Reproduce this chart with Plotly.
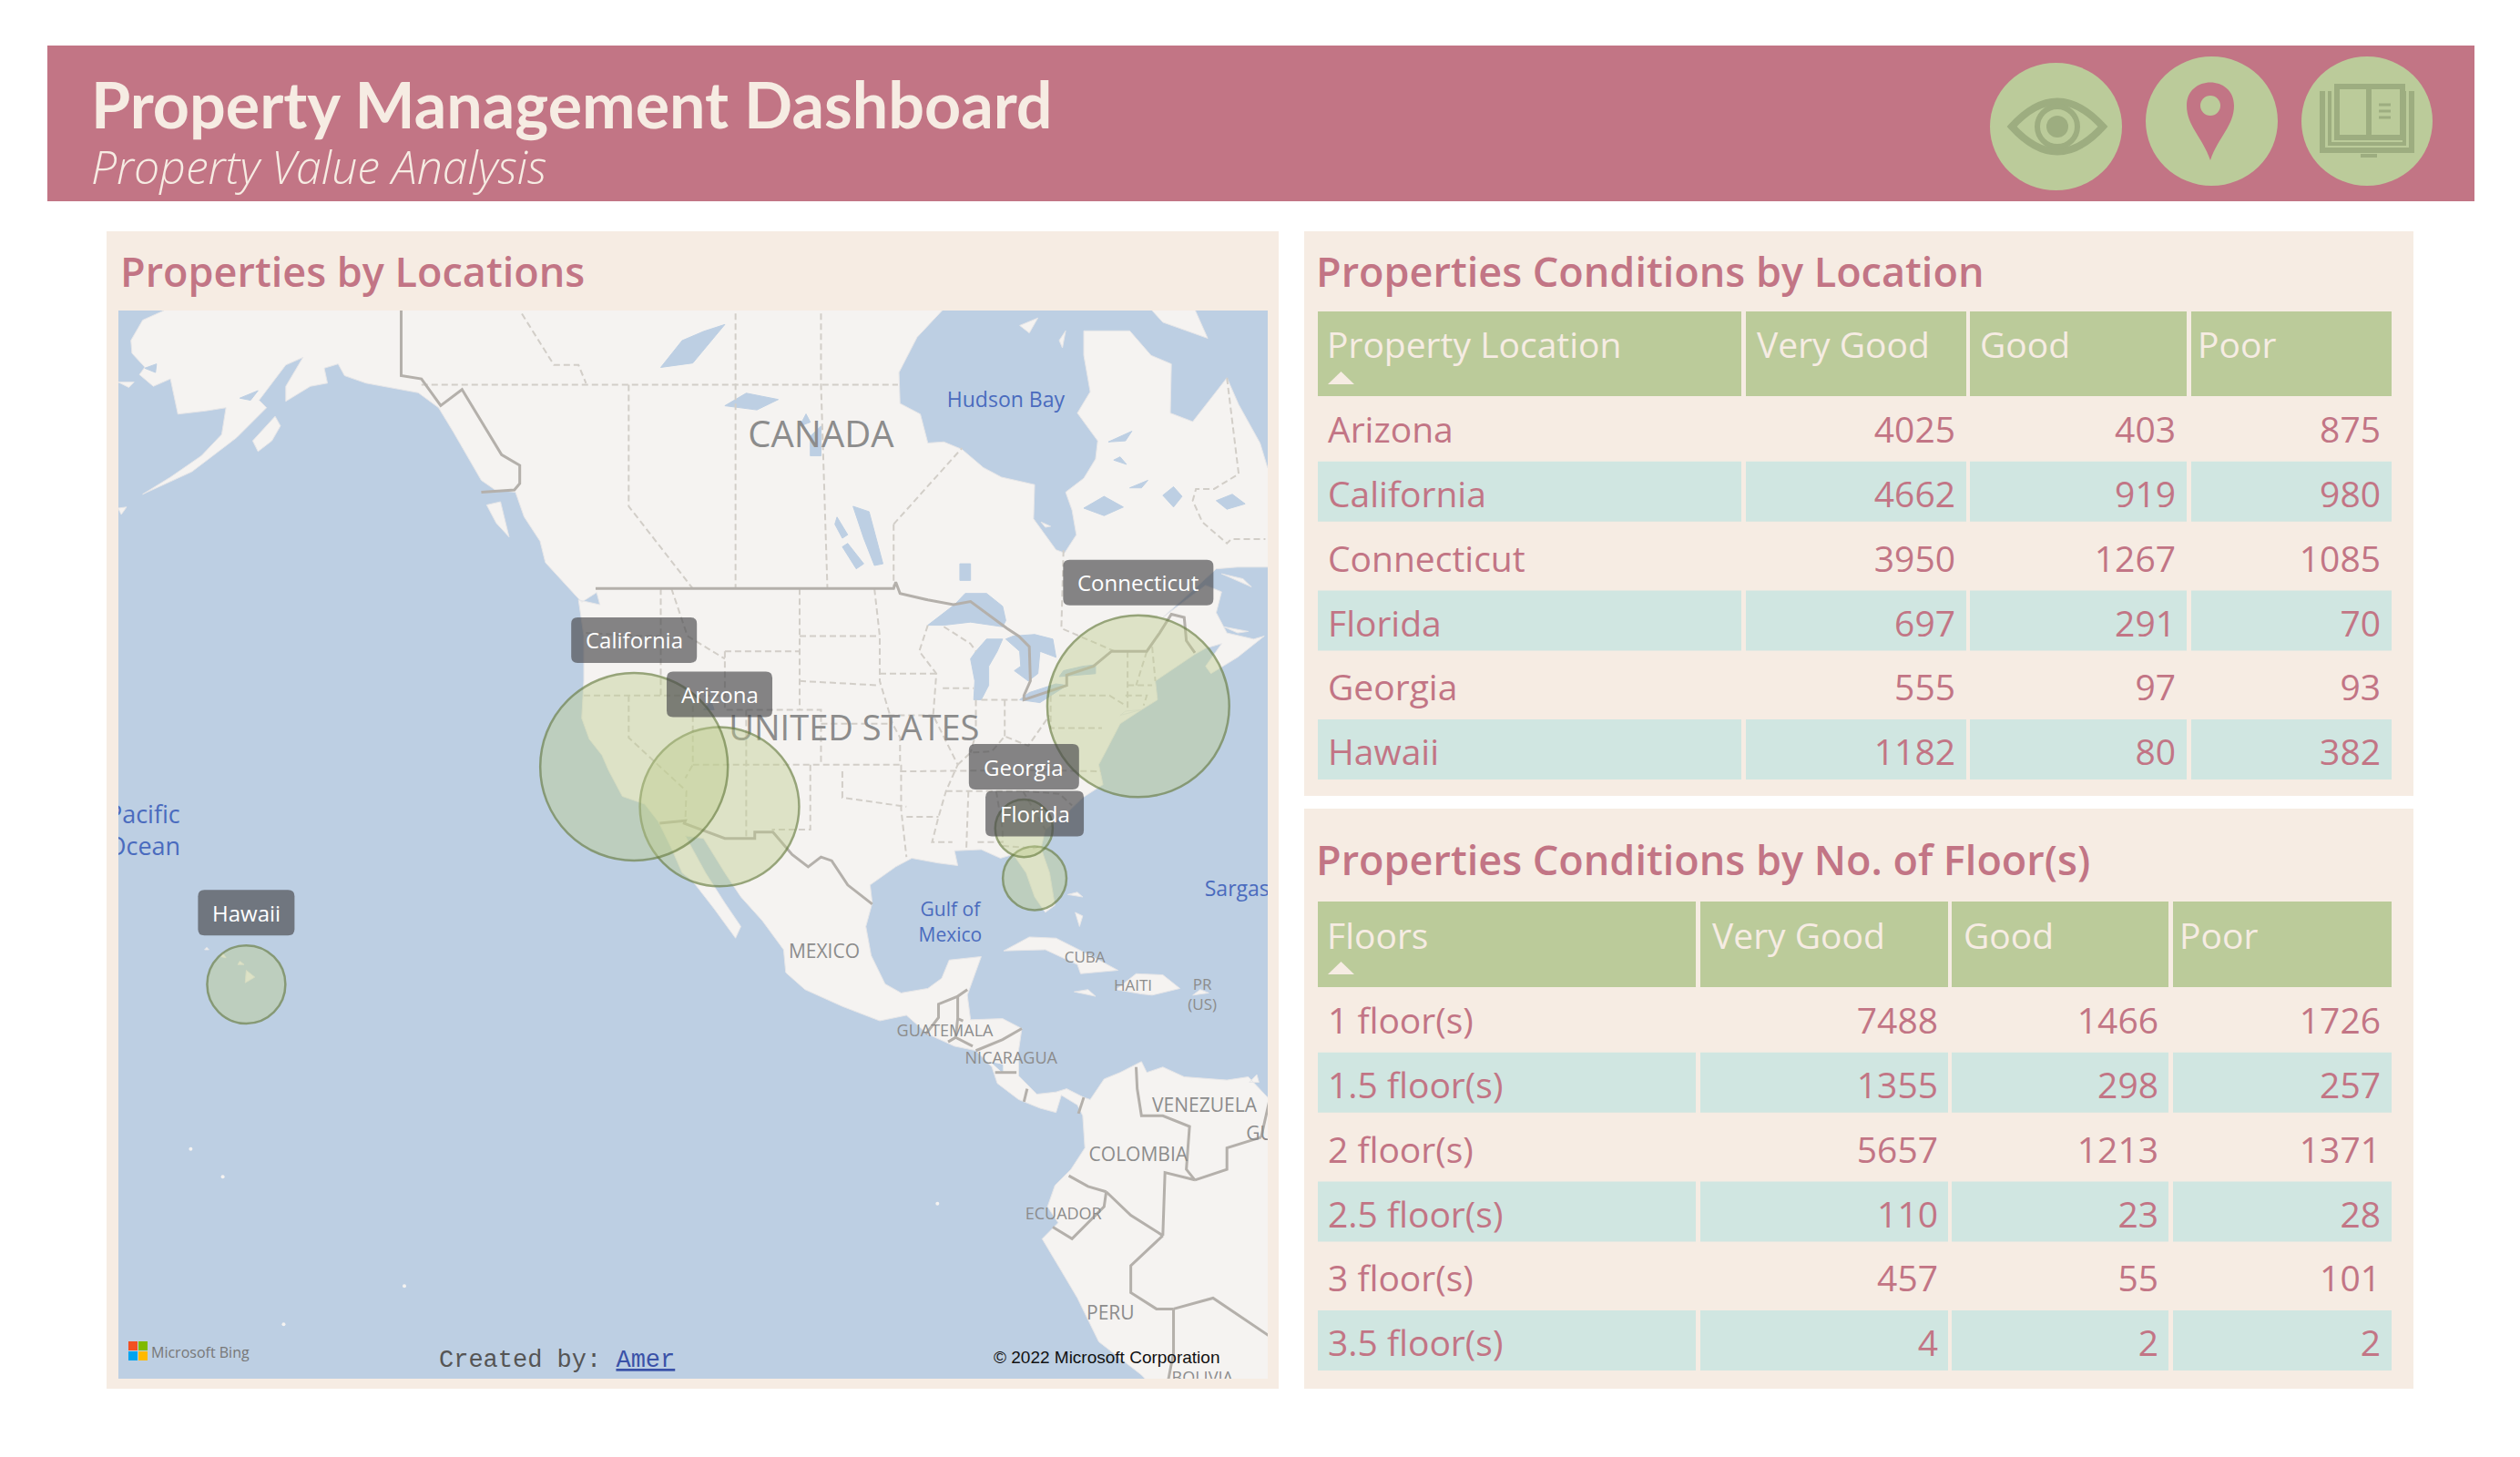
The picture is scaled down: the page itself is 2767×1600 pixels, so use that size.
import math
import plotly.graph_objects as go

# ---------- table data ----------
location_names = ["Arizona", "California", "Connecticut", "Florida", "Georgia", "Hawaii"]
loc_very_good = [4025, 4662, 3950, 697, 555, 1182]
loc_good = [403, 919, 1267, 291, 97, 80]
loc_poor = [875, 980, 1085, 70, 93, 382]

floor_names = ["1 floor(s)", "1.5 floor(s)", "2 floor(s)", "2.5 floor(s)", "3 floor(s)", "3.5 floor(s)"]
floor_very_good = [7488, 1355, 5657, 110, 457, 4]
floor_good = [1466, 298, 1213, 23, 55, 2]
floor_poor = [1726, 257, 1371, 28, 101, 2]

# ---------- bubbles ----------
bubble_lon = [-111.5, -119.5, -72.3, -82.0, -83.0, -155.8]
bubble_lat = [33.8, 36.85, 41.25, 28.05, 32.1, 18.95]
bubble_value = [72.0, 100.0, 94.0, 11.5, 9.4, 17.4]


def lat_of(m):
    # inverse web mercator, m in degrees
    return 2 * math.degrees(math.atan(math.exp(math.radians(m)))) - 90


# ---------- base map ----------
# Alaska and BC coast, (lon, mercator y)
alaska_coast = [
    (-163.5, 90), (-163.5, 82.4), (-165.5, 81.5), (-166.6, 79.6), (-166.5, 78.4), (-165.3, 77.1), (-165.8, 76.4),
    (-164.5, 75.3), (-162.9, 76), (-162.2, 72.7), (-159.6, 73), (-157.7, 73.3), (-158.1, 70.8), (-160, 68.8),
    (-162.9, 66.8), (-165.5, 65.2), (-160.9, 67.3), (-156.7, 70.5), (-153.9, 73.3), (-154.6, 74), (-152.1, 77.3),
    (-150.5, 78), (-152.1, 75.3), (-152.1, 73.9), (-149.8, 75.3), (-148.2, 75.6), (-148.5, 77), (-147.2, 77.4),
    (-146.6, 76.3), (-144.6, 75.6), (-139.7, 74.7), (-137.8, 73.3), (-136.4, 71), (-134.8, 68.2), (-133.8, 66.5),
    (-132.5, 65.6), (-130.6, 65.4), (-129.8, 63.1), (-128.3, 60.8), (-127.8, 58.8), (-125.7, 56.5), (-124.4, 55.1),
    (-123, 56),
]
# west coast round to Labrador, (lon, lat)
main_coast = [
    (-122.7, 48), (-124.7, 48.3), (-124.2, 46), (-124.2, 43), (-124.4, 40.4), (-123.7, 38.9), (-122.5, 37.7),
    (-121.9, 36.6), (-120.6, 34.6), (-118.5, 34), (-117.2, 32.6), (-116, 30.5), (-115, 28.5), (-114, 27.8),
    (-112, 25.5), (-110, 23), (-109.5, 24), (-111, 26), (-112.8, 28.5), (-114.7, 31.5), (-113, 31.3), (-111, 28.5),
    (-109.5, 26.5), (-107.5, 24.5), (-105.5, 22), (-105.3, 20), (-103.5, 18.5), (-100, 17), (-96.5, 15.7),
    (-94, 16.2), (-92, 14.5), (-89.5, 13.4), (-87.5, 13), (-86, 11.5), (-85.5, 10), (-83.5, 8.5), (-81.5, 7.7),
    (-80, 7.3), (-79.5, 8.9), (-78, 8), (-77.5, 7), (-77.3, 4), (-78.6, 2), (-80.1, 0.5), (-80.8, -1.5), (-79.8, -3),
    (-81.3, -4.5), (-79.5, -7.5), (-78, -10), (-76, -14), (-72, -17), (-71, -18), (-55, -18), (-55, 6), (-60, 8.5),
    (-62, 10.6), (-64, 10.3), (-68, 10.6), (-70, 11.5), (-71.5, 11), (-72, 12), (-74, 11), (-75.5, 10.4),
    (-76.8, 8.5), (-77.4, 8.7), (-79, 9.5), (-80, 9.2), (-81.8, 9), (-83.5, 10.7), (-83.5, 13), (-83.2, 15),
    (-85, 15.9), (-88, 15.8), (-88.3, 18), (-87.5, 20), (-87, 21.4), (-90, 21.1), (-90.7, 19.5), (-92, 18.6),
    (-94.5, 18.2), (-96, 19), (-97.3, 21.5), (-97.8, 24), (-97.2, 26), (-97.4, 27.5), (-95, 29), (-93.5, 29.7),
    (-91, 29.3), (-89.2, 29.1), (-89.5, 30.3), (-87, 30.4), (-85.2, 29.7), (-84, 30), (-82.8, 28.5), (-82, 26.5),
    (-81, 25.2), (-80.1, 25.8), (-80.6, 28.5), (-81.4, 30.5), (-81, 32), (-79, 33.3), (-77.5, 34.5), (-75.6, 35.5),
    (-76, 37), (-75.2, 38.2), (-74, 40), (-72, 41), (-70.5, 41.7), (-70.7, 43), (-67, 44.8), (-66, 45.2),
    (-64.5, 45.5), (-66, 44), (-65.5, 43.5), (-63, 44.6), (-60.5, 46), (-61.5, 45.8), (-64, 46.2), (-65, 47.5),
    (-64.5, 48.8), (-66, 49.2), (-70, 47.2), (-67, 49), (-65, 50.2), (-63, 50.3), (-60, 50.3), (-56, 52),
]
# Ungava and Hudson Bay, (lon, mercator y)
hudson_coast = [
    (-55, 66), (-60.2, 67.7), (-60.9, 70), (-62.9, 73.6), (-64, 76.1), (-67.2, 72), (-69.3, 72.8), (-69.2, 77.4),
    (-71.1, 78.2), (-73.1, 80.5), (-77.4, 80.5), (-77.4, 78.2), (-76.8, 74.8), (-78, 72.8), (-76.1, 70.2),
    (-76.3, 68.5), (-77.4, 66.7), (-79.1, 65.4), (-78.5, 63.7), (-78.1, 61.4), (-79.2, 59.7), (-80, 60),
    (-82.1, 62.9), (-82, 66.1), (-85.1, 66.8), (-86.8, 67.7), (-88.8, 69.4), (-90.5, 70.1), (-92, 70),
    (-92.7, 72.7), (-94.6, 73.7), (-94.7, 76.6), (-93, 79.9), (-90.6, 82.46), (-90, 90), (-163.5, 90),
]
mainland = ([(lo, lat_of(m)) for lo, m in alaska_coast] + main_coast + [(lo, lat_of(m)) for lo, m in hudson_coast])

islands_merc = [
    [(-155.2, 70.2), (-153.1, 72.5), (-152.6, 71.6), (-153.4, 70.2), (-154.7, 69.2)],
    [(-167.8, 75.7), (-166.3, 75.7), (-166.8, 75.2)],
    [(-167.8, 63.9), (-167, 64), (-167.5, 63.3)],
    [(-133.3, 64.2), (-132, 64.5), (-131.2, 61.2), (-132.4, 62.5)],
    [(-71.1, 82.5), (-70, 81.3), (-65.8, 79.8), (-67, 82.5)],
    [(-83.4, 81), (-81.7, 81.7), (-82.5, 80.3)],
    [(-79.7, 79.6), (-79.1, 80.5), (-79.4, 78.9)],
    [(-81.4, 62.6), (-80.5, 62.2), (-81, 62.1)],
]
islands = [[(lo, lat_of(m)) for lo, m in poly] for poly in islands_merc] + [
    [(-155.9, 19.1), (-155.0, 19.6), (-155.8, 20.2)],
    [(-156.6, 20.7), (-156.0, 20.7), (-156.4, 21.0)],
    [(-158.2, 21.4), (-157.7, 21.3), (-158.0, 21.7)],
    [(-159.7, 22.0), (-159.3, 22.0), (-159.5, 22.2)],
    [(-59.3, 47.7), (-57, 46.8), (-55, 52), (-58, 50)],
    [(-64.5, 49.9), (-61.7, 49.1), (-62.5, 49.6)],
    [(-64.3, 46.6), (-62, 46.3), (-63, 46.2)],
    [(-74, 40.6), (-72, 41), (-73.5, 40.9)],
    [(-84.9, 21.9), (-82.5, 23.1), (-80, 23), (-77, 21.6), (-74.2, 20.2), (-77.7, 19.9), (-78, 20.7), (-81, 22)],
    [(-74.4, 18.5), (-72.5, 19.9), (-70, 19.8), (-68.4, 18.6), (-71, 18), (-72, 18.1)],
    [(-78.3, 18.3), (-76.3, 17.9), (-77, 18.5)],
    [(-67.2, 18), (-65.7, 18.2), (-66.5, 18.5)],
    [(-78.2, 25.2), (-77.8, 24), (-77.5, 24.9)],
    [(-78.9, 26.7), (-77.5, 26.5), (-78, 26.9)],
    [(-61.9, 10.1), (-61, 10.1), (-61.2, 10.8)],
]
lakes_merc = [
    [(-75.1, 70.1), (-72.9, 71.1), (-73.5, 70.2)],
    [(-74.6, 68.4), (-73.4, 68), (-74, 68.7)],
    [(-73.1, 65.8), (-71.4, 66.5), (-72, 65.8)],
    [(-77.4, 63.9), (-75.5, 65), (-73.7, 64), (-75.5, 63.2)],
    [(-70, 65.1), (-69, 65.9), (-68.2, 65), (-69, 64)],
    [(-65, 64.6), (-63.5, 65.2), (-62.3, 64.3), (-64, 63.8)],
    [(-156.4, 74.2), (-154.7, 74.9), (-155.4, 74)],
    [(-165.3, 77), (-164.2, 77.4), (-164.3, 76.6)],
]
lakes = [[(lo, lat_of(m)) for lo, m in poly] for poly in lakes_merc] + [
    [(-92, 46.7), (-90.5, 46.7), (-88, 46.9), (-85, 46.6), (-84.7, 47), (-85, 47.9), (-86.5, 48.7), (-88.5, 48.7), (-89.5, 48)],
    [(-87.7, 41.7), (-87, 41.7), (-86.3, 42.7), (-86.3, 44), (-85.5, 45), (-85, 45.8), (-86.5, 45.8), (-87.5, 45), (-88, 44.5), (-87.6, 43)],
    [(-84.7, 45.8), (-83.4, 45), (-83.3, 44), (-83.9, 43.7), (-82.6, 43), (-81.7, 43.5), (-81.5, 45), (-80, 44.6), (-80.3, 45.8), (-82, 46.1), (-84, 46)],
    [(-83.4, 41.7), (-81.5, 41.5), (-79, 42.7), (-80, 42.8), (-82.5, 42.2)],
    [(-79.7, 43.3), (-76.3, 43.5), (-76.3, 44.1), (-77.5, 44), (-79.3, 43.7)],
    [(-97, 50.4), (-96.2, 50.5), (-97.5, 53.5), (-99, 53.8), (-98, 52)],
    [(-98.7, 50.2), (-98, 50.5), (-99.5, 51.7), (-100, 51.5)],
    [(-100, 52), (-99.5, 52.2), (-100.5, 53.2), (-100.7, 52.8)],
    [(-111, 59), (-109, 59.6), (-106, 59.3), (-108, 58.8)],
    [(-117, 60.8), (-114, 61), (-111, 62.7), (-113, 62.4), (-115, 62)],
    [(-103, 56.5), (-102, 56.5), (-102, 58), (-103, 57.5)],
    [(-104, 58), (-103, 58.2), (-103.4, 58.6)],
    [(-89, 49.5), (-88, 49.5), (-88, 50.5), (-89, 50.5)],
    [(-113, 41), (-112, 41), (-112.3, 41.6)],
    [(-86, 11.9), (-85, 11), (-85, 11.7)],
]
panhandle_line = [(-141.3, 90), (-141.3, 76.3), (-139.4, 76), (-137.6, 73.5), (-135.6, 75), (-131.9, 68.9),
                  (-130.2, 67.9), (-130.2, 66.2), (-130.7, 65.6), (-133.8, 65.4)]
country_lines = [
    [(lo, lat_of(m)) for lo, m in panhandle_line],
    [(-123.1, 49), (-95.2, 49), (-95, 49.4), (-94.6, 48.7), (-92, 48.3), (-89.6, 48), (-88, 48.2), (-84.6, 46.5),
     (-83.5, 46), (-82.5, 45.3), (-82.4, 43), (-83, 42), (-83, 41.7), (-79, 42.7), (-79, 43.4), (-76.5, 44),
     (-74.8, 45), (-71.5, 45), (-70.3, 46.2), (-69.2, 47.4), (-68, 47.2), (-67.8, 45.7), (-67, 44.9)],
    [(-117.1, 32.5), (-114.7, 32.7), (-114.8, 32.5), (-111, 31.3), (-108.2, 31.3), (-108.2, 31.8), (-106.5, 31.8),
     (-104.7, 30), (-103.2, 29), (-102, 29.8), (-101, 29.5), (-99.5, 27.5), (-97.2, 25.9)],
    [(-92.2, 14.5), (-91, 16), (-91, 17.2), (-89.2, 17.9), (-88.3, 18.5)],
    [(-89.2, 17.9), (-89.2, 15.9), (-88.7, 15.7)],
    [(-89.2, 15.9), (-89.4, 14.2), (-90.1, 13.8)],
    [(-89.4, 14.2), (-87.8, 13.4)],
    [(-87.5, 13), (-85, 14), (-83.2, 15)],
    [(-85.7, 11), (-83.7, 11)],
    [(-83, 8.3), (-82.7, 9.5)],
    [(-77.9, 7.2), (-77.4, 8.7)],
    [(-72.5, 11.5), (-72.4, 9.5), (-72, 7), (-70, 7), (-67.5, 6), (-67.8, 2), (-67, 1)],
    [(-78.8, 1.4), (-77, 0.4), (-75.3, -0.1)],
    [(-80.3, -3.4), (-78.5, -4.5), (-75.5, -1.5), (-75.3, -0.1)],
    [(-75.3, -0.1), (-73, -2.3), (-70, -4.2)],
    [(-70, -4.2), (-73, -7), (-73, -9.5), (-70.6, -11), (-69, -11)],
    [(-69, -11), (-69, -15), (-69.5, -17.5)],
    [(-67, 1), (-64, 2), (-64, 4), (-60.8, 5)],
    [(-60.8, 5), (-60, 8.5)],
    [(-67, 1), (-69.8, 1.7), (-70, -4.2)],
    [(-69, -11), (-65.3, -10), (-60, -13.5)],
]
yukon_line = [(-130, 82.1), (-127, 77.3), (-124.7, 77.3), (-124, 75.6)]
labrador_line = [(-64, 76.1), (-62.9, 67.1), (-65.2, 65.7), (-66.9, 65.7), (-67.2, 64.6), (-66.3, 62.6), (-64, 60.6),
                 (-63.6, 61), (-60.4, 61)]
state_lines = [
    [(lo, lat_of(m)) for lo, m in yukon_line],
    [(lo, lat_of(m)) for lo, m in labrador_line],
    [(-124, 46.2), (-119, 46), (-117, 46)],
    [(-117, 49), (-117, 42)],
    [(-124.2, 42), (-111, 42)],
    [(-120, 42), (-120, 39), (-114.6, 35), (-114.7, 32.7)],
    [(-114, 42), (-114, 37), (-114.7, 36)],
    [(-114, 37), (-94.6, 37)],
    [(-109, 41), (-109, 31.3)],
    [(-111, 45), (-111, 41), (-102, 41), (-102, 37)],
    [(-111, 45), (-104, 45)],
    [(-104, 49), (-104, 41)],
    [(-116, 49), (-114.5, 46), (-111, 44.5)],
    [(-104, 46), (-96.5, 46)],
    [(-104, 43), (-96.5, 42.7)],
    [(-102, 40), (-95.3, 40)],
    [(-103, 37), (-103, 32), (-106.6, 32)],
    [(-100, 36.5), (-100, 34.5), (-94, 33.8)],
    [(-94.5, 37), (-94.5, 33.6), (-94, 29.8)],
    [(-97, 49), (-96.5, 46), (-96.5, 43), (-95.3, 40), (-94.6, 39), (-94.6, 37)],
    [(-96.5, 43.5), (-91.2, 43.5)],
    [(-95.7, 40.6), (-91.5, 40.6)],
    [(-92, 46.7), (-92.8, 45), (-91.2, 43.5), (-91.5, 40.6), (-89.2, 37), (-90.3, 35), (-91, 33), (-91.6, 31), (-89.7, 31)],
    [(-94, 33), (-91, 33)],
    [(-94.6, 36.5), (-81.7, 36.6), (-75.8, 36.5)],
    [(-90.3, 35), (-83.1, 35)],
    [(-88.2, 35), (-88.4, 30.3)],
    [(-85.6, 35), (-85, 32), (-85, 31), (-87.6, 31)],
    [(-85, 30.7), (-82, 30.5), (-81.5, 30.7)],
    [(-83.1, 35), (-81, 32)],
    [(-83.1, 35), (-79.7, 34.8), (-78.5, 33.9)],
    [(-87.5, 41.7), (-87.5, 39.3), (-88, 37.9)],
    [(-84.8, 41.7), (-84.8, 39.1)],
    [(-89.2, 37), (-88, 37.9), (-86, 38), (-84.8, 39.1), (-82.6, 38.4), (-80.6, 40.6)],
    [(-80.5, 42), (-80.5, 39.7), (-75.7, 39.7)],
    [(-79.7, 42), (-75, 42), (-73.5, 41.3)],
    [(-90.5, 46.6), (-88, 45.5), (-87.5, 45)],
    [(-90.6, 42.5), (-87.7, 42.5)],
    [(-87, 41.7), (-83.5, 41.7)],
    [(-73.3, 45), (-73.3, 41)],
    [(-71.5, 45), (-72.5, 42.7)],
    [(-73.3, 42.7), (-71, 42.7)],
    [(-73.5, 42), (-71.5, 42), (-71.8, 41.3)],
    [(-71, 45.3), (-70.7, 43)],
    [(-139.4, 60), (-94.8, 60)],
    [(-120, 60), (-120, 53.8), (-114, 49)],
    [(-110, 64), (-110, 49)],
    [(-102, 64), (-102, 60), (-101.4, 49)],
    [(-95.2, 52.8), (-95.2, 49)],
    [(-95.2, 52.8), (-88.8, 56.9)],
    [(-79.3, 51.3), (-79.5, 46.5), (-74.5, 45)],
]

land_label_text = ["CANADA", "UNITED STATES", "MEXICO", "CUBA", "HAITI", "PR<br>(US)", "GUATEMALA", "NICARAGUA",
                   "VENEZUELA", "COLOMBIA", "ECUADOR", "PERU", "GUYANA", "BOLIVIA"]
land_label_lon = [-102.0, -98.9, -101.7, -77.3, -72.8, -66.3, -90.4, -84.2, -66.1, -72.3, -79.3, -74.9, -58.6, -66.3]
land_label_lat = [57.4, 39.4, 21.7, 21.2, 18.7, 17.9, 14.7, 12.2, 7.8, 3.2, -2.3, -11.5, 5.2, -17.4]
land_label_size = [40, 38, 21, 17, 17, 17, 18, 18, 21, 21, 18, 21, 21, 18]

water_label_text = ["Hudson Bay", "Gulf of<br>Mexico", "Pacific<br>Ocean", "Sargasso", "Bering Sea"]
water_label_lon = [-84.7, -89.9, -165.4, -62.0, -172.9]
water_label_lat = [59.2, 24.2, 31.75, 27.0, 58.3]
water_label_size = [23, 21, 27, 23, 21]

islet_lon = [-91.1, -141.0, -158.0, -161.0, -152.3]
islet_lat = [-1.2, -8.9, 1.3, 3.9, -12.4]

# ---------- colours ----------
ROSE = "#C27585"
CREAM = "#F6ECE3"
GREEN = "#BBCB9A"
ICON = "#9DAD80"
TEAL = "#D0E6E1"
WATER = "#BDCFE3"
LAND = "#F5F3F1"
BODY_FONT = "Open Sans"

W, H = 2767, 1600


def fx(px):
    return px / W


def fy(py):
    return 1 - py / H


def merc(lat):
    return math.degrees(math.log(math.tan(math.pi / 4 + math.radians(lat) / 2)))


def flat(polys, close=False):
    xs, ys = [], []
    for poly in polys:
        pts = list(poly) + ([poly[0]] if close else [])
        xs += [p[0] for p in pts] + [None]
        ys += [merc(p[1]) for p in pts] + [None]
    return xs, ys


def page_path(s):
    # path written in page pixels -> paper coordinates
    out, is_x = [], True
    for tok in s.split():
        if tok.isalpha():
            out.append(tok)
        elif is_x:
            out.append(f"{fx(float(tok)):.5f}")
            is_x = False
        else:
            out.append(f"{fy(float(tok)):.5f}")
            is_x = True
    return " ".join(out)


shapes = []


def rect(x0, y0, x1, y1, color, layer="below"):
    shapes.append(dict(type="rect", xref="paper", yref="paper", x0=fx(x0), x1=fx(x1), y0=fy(y0), y1=fy(y1),
                       fillcolor=color, line_width=0, layer=layer))


def circle(x0, y0, x1, y1, color, line=None, width=0):
    shapes.append(dict(type="circle", xref="paper", yref="paper", x0=fx(x0), x1=fx(x1), y0=fy(y0), y1=fy(y1),
                       fillcolor=color, line=dict(color=line or color, width=width), layer="below"))


def path(s, fill=None, line=None, width=0):
    shapes.append(dict(type="path", xref="paper", yref="paper", path=page_path(s),
                       fillcolor=fill or "rgba(0,0,0,0)", line=dict(color=line or "rgba(0,0,0,0)", width=width), layer="below"))


# page blocks
rect(52, 50, 2717, 221, ROSE)
rect(117, 254, 1404, 1525, CREAM)
rect(1432, 254, 2650, 874, CREAM)
rect(1432, 888, 2650, 1525, CREAM)
rect(130, 341, 1392, 1514, WATER)

# eye icon
circle(2185, 69, 2330, 209, GREEN)
path("M 2209 139 Q 2259 84 2309 139 Q 2259 194 2209 139 Z", line=ICON, width=8)
circle(2237, 117, 2281, 161, "rgba(0,0,0,0)", ICON, 6)
circle(2247, 127, 2271, 151, ICON)
# pin icon
circle(2356, 62, 2501, 204, GREEN)
path("M 2427 176 C 2418 150 2401 138 2401 116 C 2401 82 2453 82 2453 116 C 2453 138 2436 150 2427 176 Z", fill=ROSE)
circle(2416, 105, 2438, 127, GREEN)
# book icon
circle(2527, 62, 2671, 204, GREEN)
path("M 2566 95 L 2638 95 L 2638 151 L 2566 151 Z", line=ICON, width=6)
path("M 2601 95 L 2601 151", line=ICON, width=6)
path("M 2550 100 L 2550 165 L 2648 165 L 2648 100", line=ICON, width=6)
path("M 2558 100 L 2558 158 L 2640 158 L 2640 100", line=ICON, width=4)
path("M 2592 169 L 2610 169 L 2610 173 L 2592 173 Z", fill=ICON)
for ly in (115, 122, 129):
    path(f"M 2612 {ly} L 2625 {ly}", line=ICON, width=3)

# Bing logo
for (lx, ly, lc) in [(141, 1473, "#F25022"), (152, 1473, "#7FBA00"), (141, 1484, "#00A4EF"), (152, 1484, "#FFB900")]:
    rect(lx, ly, lx + 10, ly + 10, lc, layer="above")

# ---------- map ----------
fig = go.Figure()
land_x, land_y = flat([mainland] + islands, close=True)
fig.add_trace(go.Scatter(x=land_x, y=land_y, mode="lines", fill="toself", fillcolor=LAND,
                         line=dict(color="#E6E6E8", width=1), hoverinfo="skip"))
lake_x, lake_y = flat(lakes, close=True)
fig.add_trace(go.Scatter(x=lake_x, y=lake_y, mode="lines", fill="toself", fillcolor=WATER,
                         line=dict(color=WATER, width=1), hoverinfo="skip"))
st_x, st_y = flat(state_lines)
fig.add_trace(go.Scatter(x=st_x, y=st_y, mode="lines", line=dict(color="#D2CEC8", width=2, dash="7px,4px"), hoverinfo="skip"))
co_x, co_y = flat(country_lines)
fig.add_trace(go.Scatter(x=co_x, y=co_y, mode="lines", line=dict(color="#B4B0AB", width=3), hoverinfo="skip"))
fig.add_trace(go.Scatter(x=islet_lon, y=[merc(v) for v in islet_lat], mode="markers",
                         marker=dict(size=4, color=LAND), hoverinfo="skip"))
fig.add_trace(go.Scatter(x=land_label_lon, y=[merc(v) for v in land_label_lat], mode="text", text=land_label_text,
                         textfont=dict(family=BODY_FONT, color="#8C8C8C", size=land_label_size), hoverinfo="skip"))
fig.add_trace(go.Scatter(x=water_label_lon, y=[merc(v) for v in water_label_lat], mode="text", text=water_label_text,
                         textfont=dict(family=BODY_FONT, color="#4A6BBE", size=water_label_size), hoverinfo="skip"))

# plotly's area mode gives diameter = sqrt(2 * value / sizeref)
sizeref = 2 * max(bubble_value) / 206 ** 2
fig.add_trace(go.Scatter(x=bubble_lon, y=[merc(v) for v in bubble_lat], mode="markers",
                         marker=dict(size=bubble_value, sizemode="area", sizeref=sizeref,
                                     color="rgba(190,205,140,0.6)", line=dict(color="#6F8347", width=2.5)),
                         hoverinfo="skip"))

# location callouts sit just above their bubble
label_box_w = [116, 138, 165, 108, 121, 106]
annotations = []
for name, lon, lat, val, bw in zip(location_names, bubble_lon, bubble_lat, bubble_value, label_box_w):
    rad = math.sqrt(2 * val / sizeref) / 2
    y0, y1 = rad + 11, rad + 61
    x0, x1 = -bw / 2, bw / 2
    r = 7
    shapes.append(dict(type="path", xref="x", yref="y", xsizemode="pixel", ysizemode="pixel",
                       xanchor=lon, yanchor=merc(lat), layer="above",
                       path=f"M {x0 + r} {y0} L {x1 - r} {y0} Q {x1} {y0} {x1} {y0 + r} L {x1} {y1 - r} Q {x1} {y1} {x1 - r} {y1} "
                            f"L {x0 + r} {y1} Q {x0} {y1} {x0} {y1 - r} L {x0} {y0 + r} Q {x0} {y0} {x0 + r} {y0} Z",
                       fillcolor="rgba(70,70,74,0.65)", line_width=0))
    annotations.append(dict(text=name, x=lon, y=merc(lat), xref="x", yref="y", showarrow=False,
                            yshift=(y0 + y1) / 2, font=dict(family=BODY_FONT, size=24, color="#FFFFFF")))


def page_text(text, x, y, size, color, family=BODY_FONT, weight=None, style=None, anchor="left"):
    annotations.append(dict(text=text, x=fx(x), y=fy(y), xref="paper", yref="paper", showarrow=False,
                            xanchor=anchor, yanchor="middle", align="left",
                            font=dict(family=family, size=size, color=color, weight=weight, style=style)))


# one annotation for both header lines, the second line is lighter
page_text("<span style='font-family:Lato;font-size:70px;font-weight:700'>Property Management Dashboard</span><br>"
          "<span style='font-family:Open Sans;font-size:50px;font-weight:300;font-style:italic'>Property Value Analysis</span>",
          98, 145, 47, CREAM)
page_text("Properties by Locations", 130, 297, 45, ROSE, weight=600)
page_text("Properties Conditions by Location", 1443, 297, 45, ROSE, weight=600)
page_text("Properties Conditions by No. of Floor(s)", 1443, 943, 45, ROSE, weight=600)
page_text("Microsoft Bing", 164, 1485, 16, "#777777")
page_text("Created by: <span style='color:#3A52A8'><u>Amer</u></span>", 480, 1494, 27, "#555555", family="Liberation Mono")
page_text("© 2022 Microsoft Corporation", 1089, 1490, 19, "#111111", family="Liberation Sans")


# ---------- tables ----------
HEAD_LABELS = ["Very Good", "Good", "Poor"]
TRI_X = 1458


def add_table(first_head, names, very_good, good, poor, col_edges, head_x, text_edges, head_top, head_bottom):
    # green header blocks and row stripes sit behind a see-through table trace
    for (cx0, cx1), tx, label in zip(col_edges, head_x, [first_head] + HEAD_LABELS):
        rect(cx0, head_top, cx1, head_bottom, GREEN)
        page_text(label, tx, head_top + 36, 39, CREAM)
        for i in range(1, len(names), 2):
            ry = head_bottom + 1 + 70.8 * i
            rect(cx0, ry, cx1, ry + 66, TEAL)
    path(f"M {TRI_X} {head_top + 80} L {TRI_X + 29} {head_top + 80} L {TRI_X + 14.5} {head_top + 66} Z", fill=CREAM)

    widths = [b - a for a, b in zip(text_edges[:-1], text_edges[1:])]
    top = head_bottom + 13
    fig.add_trace(go.Table(
        domain=dict(x=[fx(text_edges[0]), fx(text_edges[-1])], y=[fy(top + 70.8 * len(names) + 30), fy(top)]),
        columnwidth=widths,
        header=dict(values=[""] * 4, height=1, fill_color="rgba(0,0,0,0)", line=dict(color="rgba(0,0,0,0)", width=0),
                    font=dict(size=1)),
        cells=dict(values=[names, very_good, good, poor], height=70.8, fill_color="rgba(0,0,0,0)",
                   align=["left", "right", "right", "right"],
                   line=dict(color="rgba(0,0,0,0)", width=0),
                   font=dict(family=BODY_FONT, size=39, color=ROSE)),
    ))


add_table("Property Location", location_names, loc_very_good, loc_good, loc_poor,
          [(1447, 1912), (1917, 2159), (2163, 2401), (2406, 2626)],
          [1455, 1927, 2172, 2411],
          [1450, 1914, 2155, 2397, 2622], 342, 435)
add_table("Floors", floor_names, floor_very_good, floor_good, floor_poor,
          [(1447, 1862), (1867, 2139), (2143, 2381), (2386, 2626)],
          [1455, 1878, 2154, 2391],
          [1450, 1865, 2136, 2378, 2622], 990, 1084)

fig.update_layout(
    width=W, height=H, margin=dict(l=0, r=0, t=0, b=0), paper_bgcolor="white",
    showlegend=False, shapes=shapes, annotations=annotations,
    xaxis=dict(domain=[fx(130), fx(1392)], range=[-167.77, -60.18], visible=False, fixedrange=True),
    yaxis=dict(domain=[fy(1514), fy(341)], range=[-17.6, 82.4], visible=False, fixedrange=True),
)

fig.write_html("out.html", post_script="document.body.style.margin='0';", config=dict(displayModeBar=False))
